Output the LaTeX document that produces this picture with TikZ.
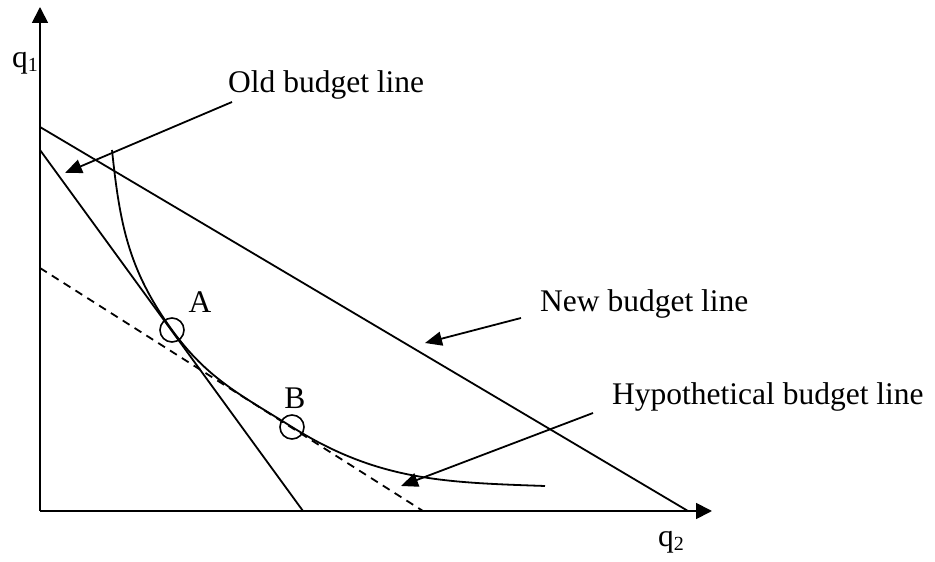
\documentclass[tikz,border=0pt]{standalone}
\usepackage{fontspec}
\setmainfont{Liberation Serif}
\usetikzlibrary{arrows.meta}
\tikzset{
  ln/.style={line width=1.8pt, black},
  axisarrow/.style={ln, -{Triangle[length=16pt,width=16pt]}},
  callout/.style={ln, -{Triangle[length=17pt,width=14pt]}},
  lbl/.style={anchor=base west, inner sep=0pt, font=\fontsize{31.5}{36}\selectfont},
  pt/.style={circle, draw, line width=1.6pt, minimum size=24pt, inner sep=0pt},
}
\newcommand{\qsub}[1]{q\raisebox{-4pt}{\fontsize{20}{20}\selectfont #1}}
\begin{document}
\begin{tikzpicture}[x=1pt,y=1pt]
\useasboundingbox (0,0) rectangle (935,562);
% axes
\coordinate (O) at (40,51);
\coordinate (Ytip) at (40,555);
\coordinate (Xtip) at (712,51);
\draw[axisarrow] (O) -- (Ytip);
\draw[axisarrow] (O) -- (Xtip);
\node[lbl] (q1) at (12,494) {\qsub{1}};
\node[lbl] (q2) at (658,15) {\qsub{2}};
% budget lines
\coordinate (old1) at (40,412);
\coordinate (old2) at (303,51);
\coordinate (new1) at (40,435);
\coordinate (new2) at (688,51);
\coordinate (hyp1) at (40,294);
\coordinate (hyp2) at (423,51);
\draw[ln] (old1) -- (old2);
\draw[ln] (new1) -- (new2);
\draw[ln, dash pattern=on 8pt off 6pt] (hyp1) -- (hyp2);
% indifference curve
\coordinate (c0) at (112,412);
\coordinate (cA) at (172,232);
\coordinate (cB) at (292,135);
\coordinate (c3) at (545,76);
\draw[ln] (c0) to[out=-84,in=126] (cA) to[out=-54,in=148] (cB) to[out=-32,in=178] (c3);
% points
\node[pt] (A) at (cA) {};
\node[pt] (B) at (cB) {};
\node[font=\fontsize{31.5}{36}\selectfont, inner sep=0pt] (Alab) at (200,260) {A};
\node[font=\fontsize{31.5}{36}\selectfont, inner sep=0pt] (Blab) at (295,164) {B};
% labels and callouts
\node[lbl] (oldl) at (228,469) {Old budget line};
\node[lbl] (newl) at (540,250) {New budget line};
\node[lbl] (hypl) at (612,157) {Hypothetical budget line};
\coordinate (oldS) at (232,460);
\coordinate (oldT) at (65,389);
\coordinate (newS) at (521,244);
\coordinate (newT) at (425,219);
\coordinate (hypS) at (593,149);
\coordinate (hypT) at (401,76);
\draw[callout] (oldS) -- (oldT);
\draw[callout] (newS) -- (newT);
\draw[callout] (hypS) -- (hypT);
\end{tikzpicture}
\end{document}
